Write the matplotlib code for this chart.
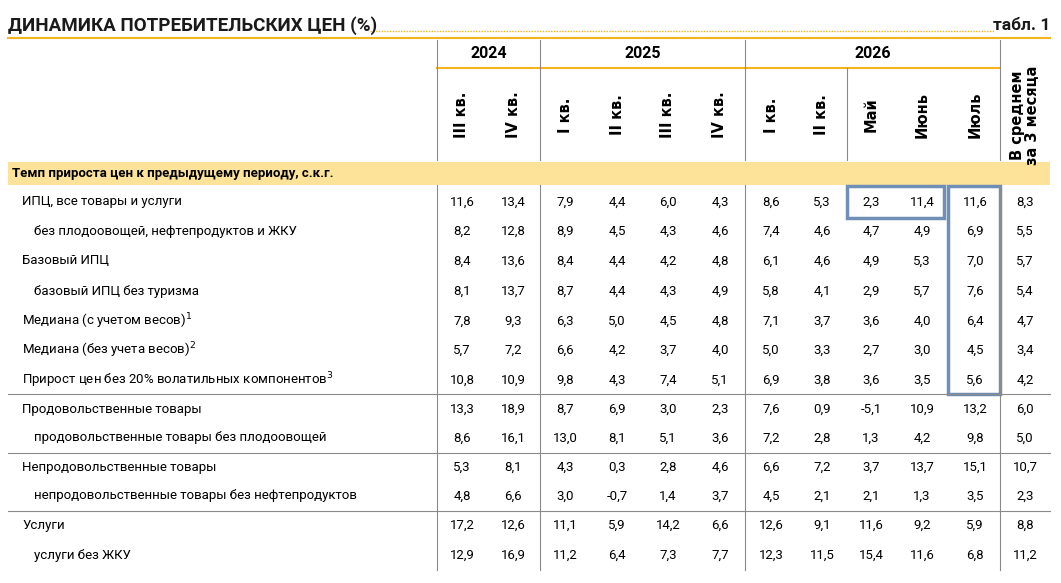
import matplotlib
matplotlib.use('Agg')
import matplotlib.pyplot as plt
from matplotlib.patches import Rectangle

plt.rcParams['font.family'] = ['Roboto', 'DejaVu Sans']

# Table contents
rows = [
    ('ИПЦ, все товары и услуги', 0, [11.6, 13.4, 7.9, 4.4, 6.0, 4.3, 8.6, 5.3, 2.3, 11.4, 11.6, 8.3]),
    ('без плодоовощей, нефтепродуктов и ЖКУ', 1, [8.2, 12.8, 8.9, 4.5, 4.3, 4.6, 7.4, 4.6, 4.7, 4.9, 6.9, 5.5]),
    ('Базовый ИПЦ', 0, [8.4, 13.6, 8.4, 4.4, 4.2, 4.8, 6.1, 4.6, 4.9, 5.3, 7.0, 5.7]),
    ('базовый ИПЦ без туризма', 1, [8.1, 13.7, 8.7, 4.4, 4.3, 4.9, 5.8, 4.1, 2.9, 5.7, 7.6, 5.4]),
    ('Медиана (с учетом весов)$^1$', 0, [7.8, 9.3, 6.3, 5.0, 4.5, 4.8, 7.1, 3.7, 3.6, 4.0, 6.4, 4.7]),
    ('Медиана (без учета весов)$^2$', 0, [5.7, 7.2, 6.6, 4.2, 3.7, 4.0, 5.0, 3.3, 2.7, 3.0, 4.5, 3.4]),
    ('Прирост цен без 20% волатильных компонентов$^3$', 0, [10.8, 10.9, 9.8, 4.3, 7.4, 5.1, 6.9, 3.8, 3.6, 3.5, 5.6, 4.2]),
    ('Продовольственные товары', 0, [13.3, 18.9, 8.7, 6.9, 3.0, 2.3, 7.6, 0.9, -5.1, 10.9, 13.2, 6.0]),
    ('продовольственные товары без плодоовощей', 1, [8.6, 16.1, 13.0, 8.1, 5.1, 3.6, 7.2, 2.8, 1.3, 4.2, 9.8, 5.0]),
    ('Непродовольственные товары', 0, [5.3, 8.1, 4.3, 0.3, 2.8, 4.6, 6.6, 7.2, 3.7, 13.7, 15.1, 10.7]),
    ('непродовольственные товары без нефтепродуктов', 1, [4.8, 6.6, 3.0, -0.7, 1.4, 3.7, 4.5, 2.1, 2.1, 1.3, 3.5, 2.3]),
    ('Услуги', 0, [17.2, 12.6, 11.1, 5.9, 14.2, 6.6, 12.6, 9.1, 11.6, 9.2, 5.9, 8.8]),
    ('услуги без ЖКУ', 1, [12.9, 16.9, 11.2, 6.4, 7.3, 7.7, 12.3, 11.5, 15.4, 11.6, 6.8, 11.2]),
]
cols = ['III кв.', 'IV кв.', 'I кв.', 'II кв.', 'III кв.', 'IV кв.', 'I кв.', 'II кв.', 'Май', 'Июнь', 'Июль',
        'В среднем\nза 3 месяца']
col_x = [462, 513, 565, 617, 668, 720, 771, 822, 871, 922, 975, 1025]
row_y = [202, 231, 261, 291, 321, 350, 380, 409, 438, 467, 496, 525, 555]

ORANGE = '#f5b31c'
BAND = '#fde29a'
BLUE = '#6f8fb5'
GRID = '#8a8a8a'

fig = plt.figure(figsize=(10.61, 5.83), dpi=100)
ax = fig.add_axes([0, 0, 1, 1])
ax.set_xlim(0, 1061)
ax.set_ylim(583, 0)
ax.axis('off')

# Title line
ax.text(8, 26, 'ДИНАМИКА ПОТРЕБИТЕЛЬСКИХ ЦЕН (%)', fontsize=13.5, fontweight='bold', va='center', color='#1a1a1a')
ax.text(1050, 26, 'табл. 1', fontsize=12.5, fontweight='bold', va='center', ha='right', color='#1a1a1a')
ax.plot([370, 994], [31, 31], color=ORANGE, lw=1, ls=(0, (1, 1)))
ax.plot([8, 1050], [38, 38], color=ORANGE, lw=1.5)

# Header
for lbl, x0, x1 in [('2024', 437, 540), ('2025', 540, 745), ('2026', 745, 1000)]:
    ax.text((x0 + x1) / 2, 53, lbl, fontsize=11.5, fontweight='bold', ha='center', va='center')
ax.plot([437, 1000], [68, 68], color=ORANGE, lw=1.5)
for i, c in enumerate(cols):
    ax.text(col_x[i], 115, c, rotation=90, fontsize=10.5, fontweight='bold', ha='center', va='center',
            linespacing=0.95, family=['DejaVu Sans'])
for x in [437, 540, 745, 1000]:
    ax.plot([x, x], [40, 160], color=GRID, lw=0.8)
ax.plot([847, 847], [68, 160], color=GRID, lw=0.8)

# Section band
ax.add_patch(Rectangle((8, 162), 1042, 23, color=BAND, lw=0))
ax.text(12, 173.5, 'Темп прироста цен к предыдущему периоду, с.к.г.', fontsize=9.5, fontweight='bold', va='center')

# Body
for (name, indent, vals), y in zip(rows, row_y):
    ax.text(22 + 12 * indent, y, name, fontsize=9.5, va='center')
    for x, v in zip(col_x, vals):
        ax.text(x, y, f'{v:.1f}'.replace('.', ','), fontsize=9.5, ha='center', va='center')
for x in [437, 540, 745, 1000]:
    ax.plot([x, x], [185, 570], color=GRID, lw=0.8)
for y in [394, 453, 511]:
    ax.plot([8, 1050], [y, y], color=GRID, lw=0.8)

# Highlight boxes
ax.add_patch(Rectangle((847, 186), 97, 32, fill=False, ec=BLUE, lw=2.5))
ax.add_patch(Rectangle((948, 186), 52, 208, fill=False, ec=BLUE, lw=2.5))

fig.savefig('out.png', dpi=100)
